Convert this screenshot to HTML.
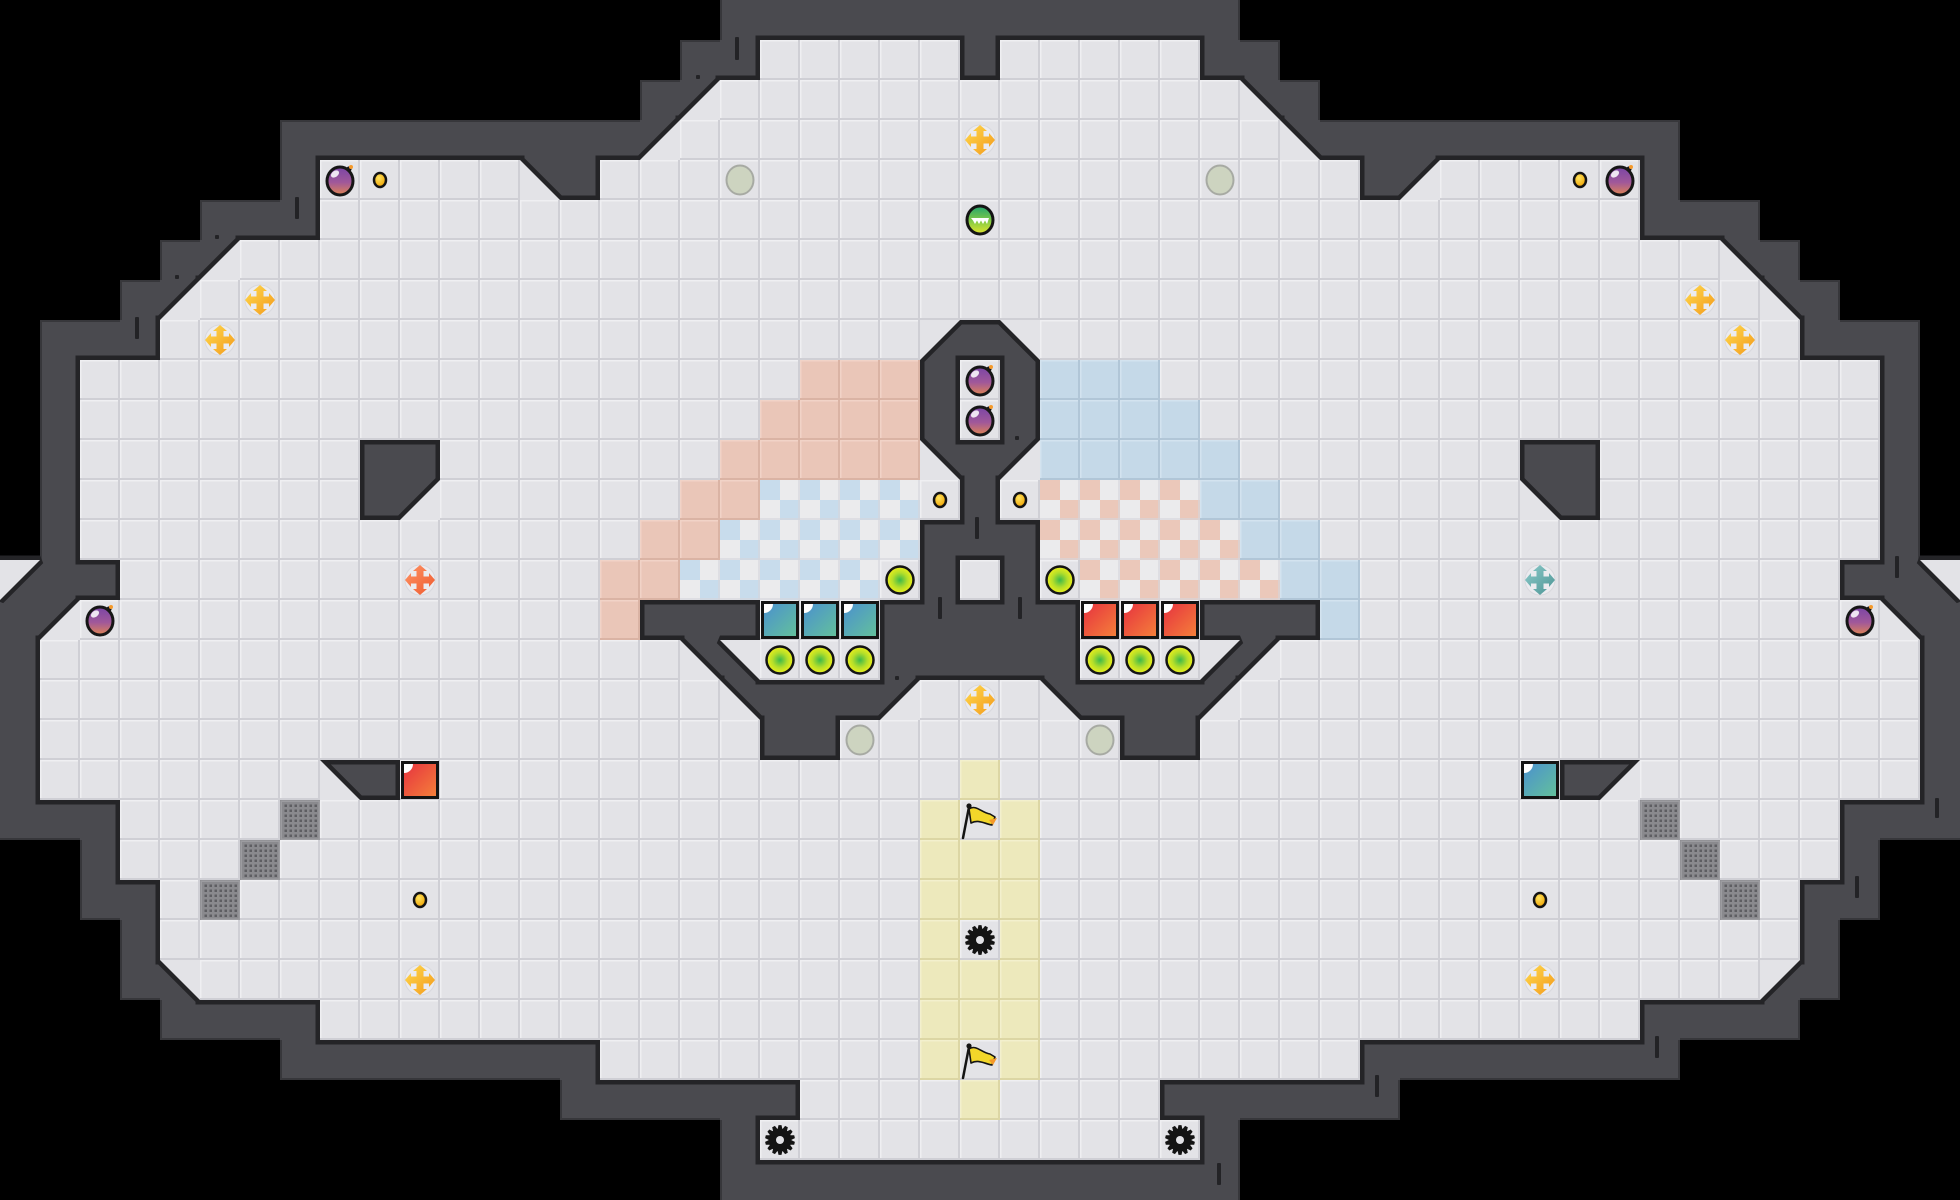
<!DOCTYPE html>
<html>
<head>
<meta charset="utf-8">
<style>
html,body{margin:0;padding:0;background:#000;overflow:hidden;width:1960px;height:1200px}
svg{display:block}
</style>
</head>
<body>
<div id="w"></div>
<script>
(function(){
const C=40,NC=49,NR=30;
const spec=[
"25#",
"19# 5. #",
"17# c 7.",
"16# c 8.",
"8# 5. d # 10.",
"8# 17.",
"5# c 19.",
"4# c 20.",
"4# 19. a #",
"2# 18. 3S # P",
"2# 17. 4S # P",
"2# 7. 2# 7. 5S d #",
"2# 7. # c 6. 2S 4K . #",
"2# 14. 2S 5K 2#",
"a 2# 12. 2S 5K . # .",
"# c 13. S 3# 3R 3#",
"# 16. d b 3. 3#",
"# 17. d 3# c 2.",
"# 18. 2# 4.",
"# 7. d # 14. Y",
"3# 4. G 15. Y .",
"3# 3. G 16. 2Y",
"4# . G 17. 2Y",
"4# 19. Y .",
"4# b 18. 2Y",
"8# 15. 2Y",
"15# 8. Y .",
"20# 4. Y",
"19# 6.",
"25#"];
function parse(s){let o='';s.trim().split(/\s+/).forEach(t=>{const m=t.match(/^(\d*)(.)$/);o+=m[2].repeat(m[1]?+m[1]:1);});return o;}
const mir={a:'b',b:'a',c:'d',d:'c'};
const G=spec.map(s=>{let r=parse(s);while(r.length<25)r+='#';r=r.slice(0,25);const a=r.split('');for(let c=25;c<NC;c++){const ch=r[48-c];a[c]=mir[ch]||ch;}return a;});
const isF=ch=>'.SKYGPR'.indexOf(ch)>=0;
const isT=ch=>'abcd'.indexOf(ch)>=0;
const get=(r,c)=>(r<0||r>=NR||c<0||c>=NC)?'#':G[r][c];
const wall=[];
for(let r=0;r<NR;r++){wall[r]=[];for(let c=0;c<NC;c++){const ch=G[r][c];let w=false;
 if(!isF(ch)){ if(isT(ch))w=true; else {for(let dr=-1;dr<=1;dr++)for(let dc=-1;dc<=1;dc++){if(isF(get(r+dr,c+dc)))w=true;}}}
 wall[r][c]=w;}}
const isW=(r,c)=>(r<0||r>=NR||c<0||c>=NC)?true:wall[r][c];

function triPts(ch,x,y){const X=x+C,Y=y+C;
 if(ch==='a')return x+','+y+' '+X+','+y+' '+x+','+Y;
 if(ch==='b')return x+','+y+' '+X+','+y+' '+X+','+Y;
 if(ch==='c')return X+','+y+' '+X+','+Y+' '+x+','+Y;
 return x+','+y+' '+x+','+Y+' '+X+','+Y;}

let s='<svg xmlns="http://www.w3.org/2000/svg" width="1960" height="1200" viewBox="0 0 1960 1200">';
s+='<defs>'+
'<linearGradient id="gb" x1="0" y1="0" x2="0" y2="1"><stop offset="0" stop-color="#7a45a6"/><stop offset="0.55" stop-color="#a0589a"/><stop offset="1" stop-color="#e08454"/></linearGradient>'+
'<radialGradient id="gc" cx="0.4" cy="0.35" r="0.7"><stop offset="0" stop-color="#ffe45e"/><stop offset="1" stop-color="#eea000"/></radialGradient>'+
'<linearGradient id="gf" x1="0" y1="0" x2="0" y2="1"><stop offset="0" stop-color="#22a56e"/><stop offset="0.5" stop-color="#7cc848"/><stop offset="1" stop-color="#e2e62c"/></linearGradient>'+
'<radialGradient id="gd" cx="0.5" cy="0.5" r="0.5"><stop offset="0" stop-color="#3db84a"/><stop offset="0.55" stop-color="#b4de2a"/><stop offset="1" stop-color="#eef01a"/></radialGradient>'+
'<linearGradient id="gcb" x1="0" y1="0" x2="1" y2="1"><stop offset="0" stop-color="#4a8fd0"/><stop offset="1" stop-color="#64c29a"/></linearGradient>'+
'<linearGradient id="gcr" x1="0" y1="0" x2="1" y2="1"><stop offset="0" stop-color="#e6303f"/><stop offset="1" stop-color="#f5823a"/></linearGradient>'+
'<linearGradient id="gmy" x1="0" y1="0" x2="1" y2="1"><stop offset="0" stop-color="#ffd94c"/><stop offset="1" stop-color="#f39a1c"/></linearGradient>'+
'<linearGradient id="gmo" x1="0" y1="0" x2="1" y2="1"><stop offset="0" stop-color="#ff9466"/><stop offset="1" stop-color="#ee5a2e"/></linearGradient>'+
'<linearGradient id="gmt" x1="0" y1="0" x2="1" y2="1"><stop offset="0" stop-color="#8ccaca"/><stop offset="1" stop-color="#4c9494"/></linearGradient>'+
'</defs>';
s+='<rect width="1960" height="1200" fill="#000"/>';
// walls
s+='<g shape-rendering="crispEdges" fill="#4a4a4f">';
for(let r=0;r<NR;r++)for(let c=0;c<NC;c++)if(wall[r][c])s+='<rect x="'+c*C+'" y="'+r*C+'" width="40" height="40"/>';
s+='</g>';
// wall edge to black
s+='<g shape-rendering="crispEdges" fill="#37373b">';
for(let r=0;r<NR;r++)for(let c=0;c<NC;c++){if(!wall[r][c])continue;const x=c*C,y=r*C;
 const bl=(rr,cc)=>{if(rr<0||rr>=NR||cc<0||cc>=NC)return false;return !wall[rr][cc]&&!isF(G[rr][cc]);};
 if(bl(r-1,c))s+='<rect x="'+x+'" y="'+y+'" width="40" height="2"/>';
 if(bl(r+1,c))s+='<rect x="'+x+'" y="'+(y+38)+'" width="40" height="2"/>';
 if(bl(r,c-1))s+='<rect x="'+x+'" y="'+y+'" width="2" height="40"/>';
 if(bl(r,c+1))s+='<rect x="'+(x+38)+'" y="'+y+'" width="2" height="40"/>';
}
s+='</g>';
// outline underlay
s+='<g fill="#242427" stroke="#242427" stroke-width="9" stroke-miterlimit="2">';
for(let r=0;r<NR;r++)for(let c=0;c<NC;c++){const ch=G[r][c];const x=c*C,y=r*C;
 if(isF(ch))s+='<rect x="'+x+'" y="'+y+'" width="40" height="40"/>';
 else if(isT(ch))s+='<polygon points="'+triPts(ch,x,y)+'"/>';
}
s+='</g>';
// floor
function tile(x,y,b,d,l){
 return '<rect x="'+x+'" y="'+y+'" width="40" height="40" fill="'+b+'"/>'+
 '<rect x="'+x+'" y="'+(y+38)+'" width="40" height="2" fill="'+d+'"/>'+
 '<rect x="'+(x+38)+'" y="'+y+'" width="2" height="40" fill="'+d+'"/>'+
 '<rect x="'+x+'" y="'+y+'" width="38" height="1.5" fill="'+l+'"/>'+
 '<rect x="'+x+'" y="'+y+'" width="1.5" height="38" fill="'+l+'"/>';
}
s+='<g shape-rendering="crispEdges">';
for(let r=0;r<NR;r++)for(let c=0;c<NC;c++){const ch=G[r][c];const x=c*C,y=r*C;
 if(isT(ch)){s+='<polygon points="'+triPts(ch,x,y)+'" fill="#e3e3e7" shape-rendering="auto"/>';continue;}
 if(!isF(ch))continue;
 const right=c>24;
 if(ch==='S'){ if(right)s+=tile(x,y,'#c5d9e8','#b1c6d7','#d3e3ef'); else s+=tile(x,y,'#eac6b8','#dab3a4','#f1d3c7'); }
 else if(ch==='K'){
  const sub=right?'#ebc8ba':'#c8dcec';
  s+='<rect x="'+x+'" y="'+y+'" width="40" height="40" fill="#ebebed"/>';
  s+='<rect x="'+x+'" y="'+y+'" width="20" height="20" fill="'+sub+'"/>';
  s+='<rect x="'+(x+20)+'" y="'+(y+20)+'" width="20" height="20" fill="'+sub+'"/>';
  s+='<rect x="'+x+'" y="'+(y+38)+'" width="40" height="2" fill="#d6d6dc" opacity="0.6"/>';
  s+='<rect x="'+(x+38)+'" y="'+y+'" width="2" height="40" fill="#d6d6dc" opacity="0.6"/>';
 }
 else if(ch==='Y'){ s+=tile(x,y,'#ede9bc','#dcd6a4','#f3f0cd'); }
 else if(ch==='G'){
  s+='<rect x="'+x+'" y="'+y+'" width="40" height="40" fill="#8a8a8e"/>';
  s+='<rect x="'+(x+1)+'" y="'+(y+1)+'" width="38" height="38" fill="none" stroke="#9c9ca0" stroke-width="1.5"/>';
  for(let i=0;i<7;i++)for(let j=0;j<7;j++)s+='<rect x="'+(x+4.5+i*5)+'" y="'+(y+4.5+j*5)+'" width="2.4" height="2.4" fill="#5e5e62"/>';
 }
 else { s+=tile(x,y,'#e3e3e7','#cfcfd5','#efeff2'); }
}
s+='</g>';

// objects
function bomb(c,r){const cx=c*C+20,cy=r*C+20;
 return '<circle cx="'+(cx+9)+'" cy="'+(cy-11)+'" r="2.6" fill="#161616"/>'+
 '<ellipse cx="'+cx+'" cy="'+(cy+1)+'" rx="13" ry="14" fill="url(#gb)" stroke="#161616" stroke-width="3"/>'+
 '<ellipse cx="'+(cx-5)+'" cy="'+(cy-6)+'" rx="4.5" ry="3" fill="#fff" opacity="0.85" transform="rotate(-35 '+(cx-5)+' '+(cy-6)+')"/>'+
 '<circle cx="'+(cx+11)+'" cy="'+(cy-13)+'" r="2" fill="#f59a2c"/>';}
function coin(c,r){const cx=c*C+20,cy=r*C+20;return '<ellipse cx="'+cx+'" cy="'+cy+'" rx="6" ry="7" fill="url(#gc)" stroke="#141414" stroke-width="2.5"/>';}
function gcirc(c,r){const cx=c*C+20,cy=r*C+20;return '<ellipse cx="'+cx+'" cy="'+cy+'" rx="13.5" ry="14.5" fill="#cdd4c0" stroke="#a7aaa3" stroke-width="2"/>';}
function face(c,r){const cx=c*C+20,cy=r*C+20;
 let t='<ellipse cx="'+cx+'" cy="'+cy+'" rx="13" ry="14" fill="url(#gf)" stroke="#141414" stroke-width="3"/>';
 t+='<polygon points="'+(cx-9)+','+(cy-2)+' '+(cx+9)+','+(cy-2)+' '+(cx+7)+','+(cy+4)+' '+(cx+5)+','+(cy+0.5)+' '+(cx+3)+','+(cy+4)+' '+(cx+1)+','+(cy+0.5)+' '+(cx-1)+','+(cy+4)+' '+(cx-3)+','+(cy+0.5)+' '+(cx-5)+','+(cy+4)+' '+(cx-7)+','+(cy+0.5)+'" fill="#fff"/>';
 return t;}
function disc(c,r){const cx=c*C+20,cy=r*C+20;return '<circle cx="'+cx+'" cy="'+cy+'" r="13.5" fill="url(#gd)" stroke="#141414" stroke-width="2.5"/>';}
function crate(c,r,g){const x=c*C,y=r*C;
 return '<rect x="'+(x+2.5)+'" y="'+(y+2.5)+'" width="35" height="35" fill="url(#'+g+')" stroke="#141414" stroke-width="3"/>'+
 '<path d="M'+(x+4)+' '+(y+4)+'h9a9 9 0 0 1 -9 9z" fill="#fff"/>';}
function move(c,r,g){const cx=c*C+20,cy=r*C+20;
 return '<circle cx="'+cx+'" cy="'+cy+'" r="15" fill="#ebebef" stroke="#d8d8dd" stroke-width="1"/>'+
 '<path transform="translate('+cx+' '+cy+')" d="M-3.5,-9 L-3.5,-3.5 L-9,-3.5 L-9,-7 L-15,0 L-9,7 L-9,3.5 L-3.5,3.5 L-3.5,9 L-7,9 L0,15 L7,9 L3.5,9 L3.5,3.5 L9,3.5 L9,7 L15,0 L9,-7 L9,-3.5 L3.5,-3.5 L3.5,-9 L7,-9 L0,-15 L-7,-9 Z" fill="url(#'+g+')"/>';}
function saw(c,r){const cx=c*C+20,cy=r*C+20;const n=14,st=2*Math.PI/n;let p=[];
 for(let i=0;i<n;i++){const a=i*st-Math.PI/2;
  [[11,-0.5],[15,-0.22],[15,0.22]].forEach(q=>{const aa=a+q[1]*st;p.push((cx+q[0]*Math.cos(aa)).toFixed(1)+','+(cy+q[0]*Math.sin(aa)).toFixed(1));});}
 return '<polygon points="'+p.join(' ')+'" fill="#141414"/><circle cx="'+cx+'" cy="'+cy+'" r="11.5" fill="#141414"/><circle cx="'+cx+'" cy="'+cy+'" r="4" fill="#e3e3e7"/>';}
function flag(c,r){const x=c*C,y=r*C;
 return '<path d="M'+(x+9)+' '+(y+9)+' C'+(x+16)+' '+(y+4)+' '+(x+22)+' '+(y+13)+' '+(x+30)+' '+(y+14)+' L'+(x+35)+' '+(y+17)+' L'+(x+32)+' '+(y+25)+' C'+(x+25)+' '+(y+24)+' '+(x+19)+' '+(y+19)+' '+(x+11)+' '+(y+23)+' Z" fill="#f2d62a" stroke="#141414" stroke-width="1.6" stroke-linejoin="round"/>'+
 '<path d="M'+(x+29)+' '+(y+20)+' L'+(x+37)+' '+(y+18)+' L'+(x+33)+' '+(y+25)+' Z" fill="#f4982a"/>'+
 '<line x1="'+(x+3)+'" y1="'+(y+38)+'" x2="'+(x+9)+'" y2="'+(y+7)+'" stroke="#141414" stroke-width="2.5" stroke-linecap="round"/>'+
 '<circle cx="'+(x+9)+'" cy="'+(y+6)+'" r="2.6" fill="#141414"/>';}

[[8,4],[40,4],[2,15],[46,15],[24,9],[24,10]].forEach(p=>s+=bomb(p[0],p[1]));
[[9,4],[39,4],[23,12],[25,12],[10,22],[38,22]].forEach(p=>s+=coin(p[0],p[1]));
[[18,4],[30,4],[21,18],[27,18]].forEach(p=>s+=gcirc(p[0],p[1]));
s+=face(24,5);
[[24,3],[6,7],[5,8],[42,7],[43,8],[24,17],[10,24],[38,24]].forEach(p=>s+=move(p[0],p[1],'gmy'));
s+=move(10,14,'gmo');
s+=move(38,14,'gmt');
[[22,14],[26,14],[19,16],[20,16],[21,16],[27,16],[28,16],[29,16]].forEach(p=>s+=disc(p[0],p[1]));
[[19,15],[20,15],[21,15],[38,19]].forEach(p=>s+=crate(p[0],p[1],'gcb'));
[[27,15],[28,15],[29,15],[10,19]].forEach(p=>s+=crate(p[0],p[1],'gcr'));
[[24,23],[19,28],[29,28]].forEach(p=>s+=saw(p[0],p[1]));
[[24,20],[24,26]].forEach(p=>s+=flag(p[0],p[1]));

// wall ticks
const ticks=[[735,37,4,23],[295,197,4,22],[135,317,4,22],[215,235,4,4],[175,275,4,4],[696,75,4,4],
[938,597,4,22],[1018,597,4,22],[975,517,4,22],[895,676,4,4],[1015,436,4,4],
[1895,556,4,22],[1935,798,4,20],[1855,876,4,22],[1655,1036,4,22],[1375,1075,4,22],[1217,1163,4,22]];
ticks.forEach(t=>{s+='<rect x="'+t[0]+'" y="'+t[1]+'" width="'+t[2]+'" height="'+t[3]+'" rx="1" fill="#232326"/>';});

s+='</svg>';
document.getElementById('w').innerHTML=s;
})();
</script>
</body>
</html>
